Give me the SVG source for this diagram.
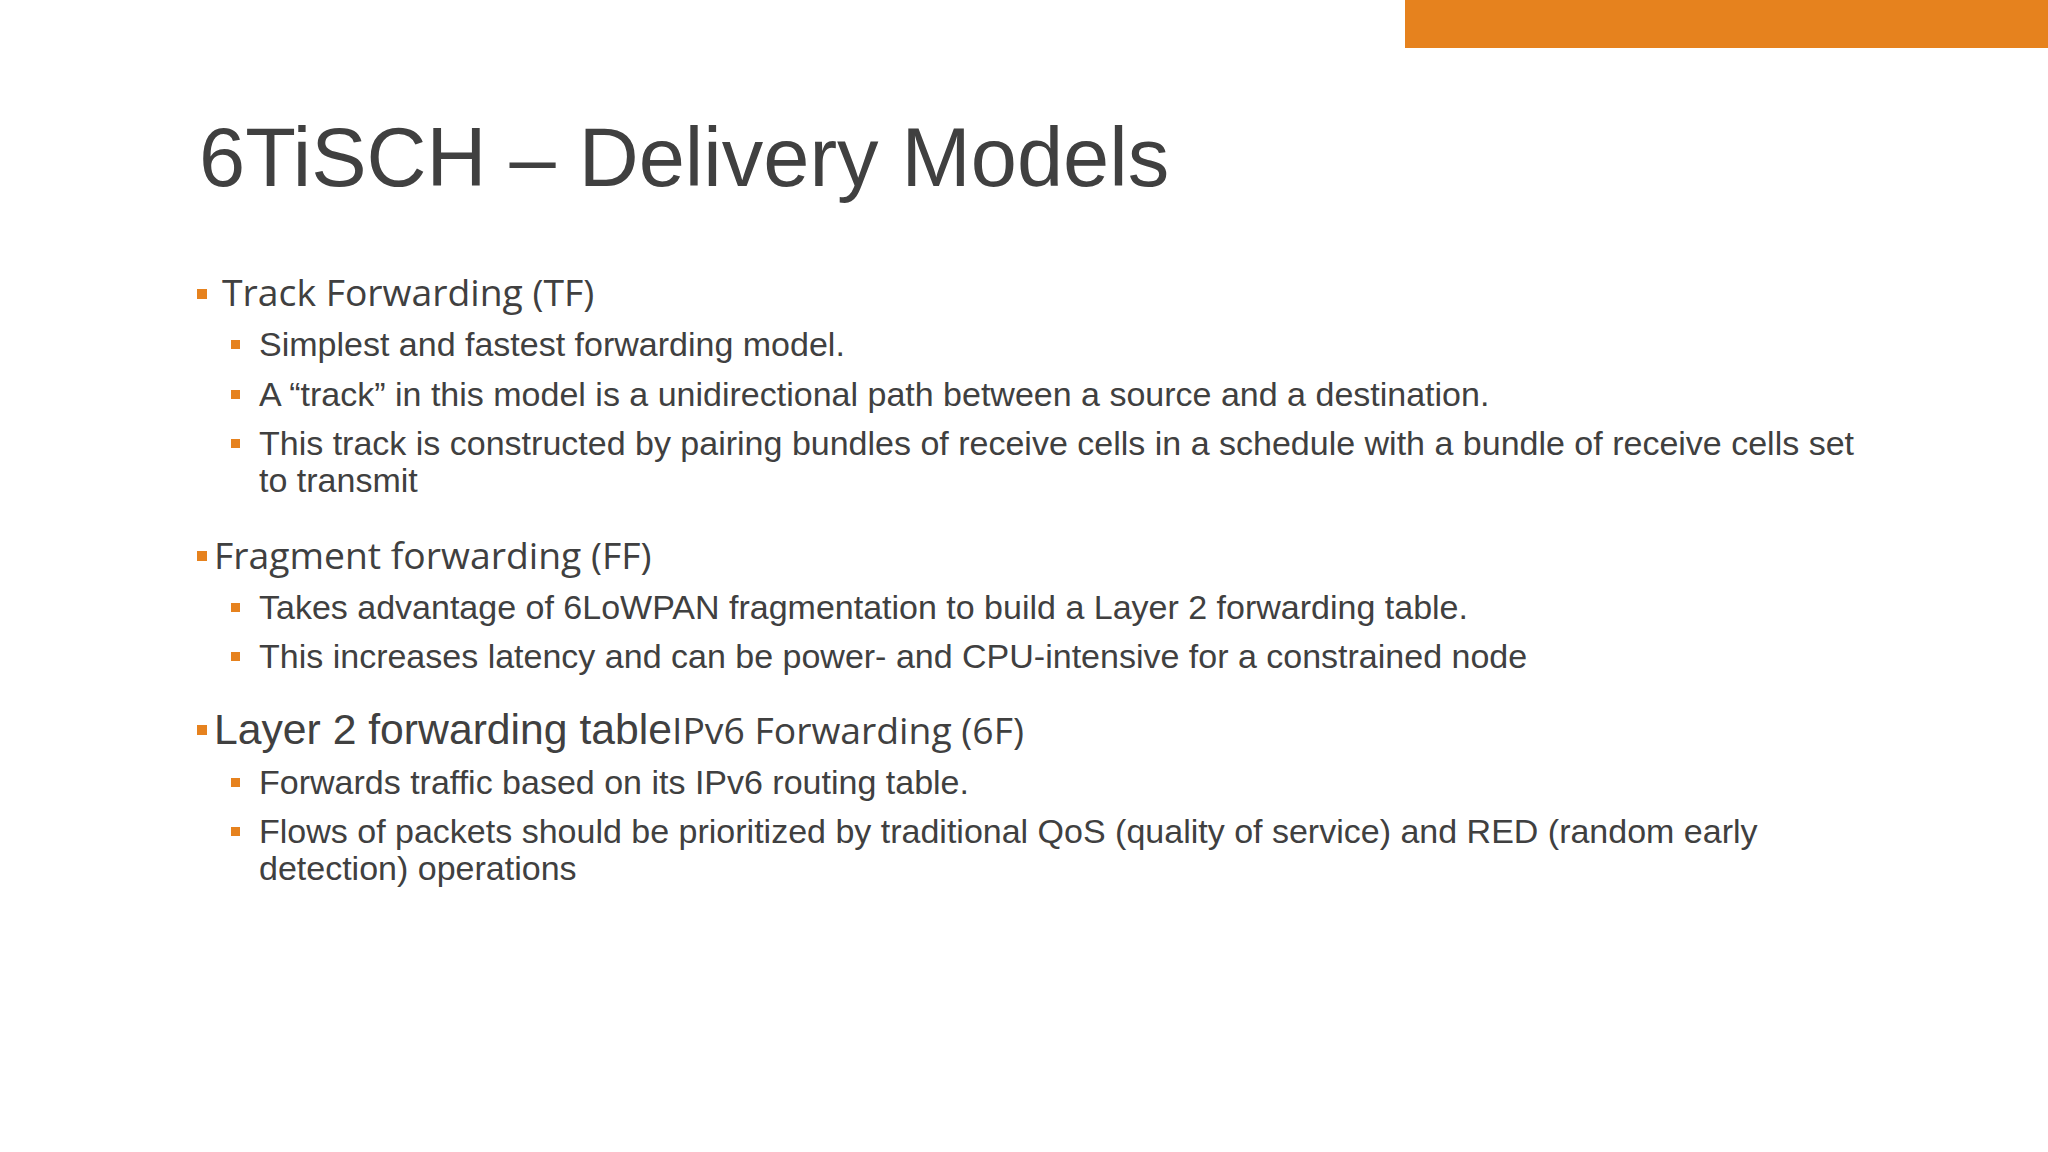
<svg xmlns="http://www.w3.org/2000/svg" width="2048" height="1152" viewBox="0 0 2048 1152">
<style>
.t{font-family:"Liberation Sans",Arial,sans-serif;fill:#404040}
.h{font-family:"Open Sans","Noto Sans",sans-serif;fill:#404040;font-size:37.3px}
.s{font-size:34px}
.b{fill:#E6821E}
</style>
<rect width="2048" height="1152" fill="#fff"/>
<rect x="1405" y="0" width="643" height="48" class="b"/>
<text x="199" y="186" class="t" font-size="83">6TiSCH – Delivery Models</text>
<g id="tf">
<rect x="197" y="289" width="10" height="10" class="b"/>
<text x="222" y="306" class="h">Track Forwarding (TF)</text>
<rect x="231" y="340" width="9" height="9" class="b"/>
<text x="259" y="356" class="t s">Simplest and fastest forwarding model.</text>
<rect x="231" y="390" width="9" height="9" class="b"/>
<text x="259" y="406" class="t s">A “track” in this model is a unidirectional path between a source and a destination.</text>
<rect x="231" y="439" width="9" height="9" class="b"/>
<text x="259" y="455" class="t s">This track is constructed by pairing bundles of receive cells in a schedule with a bundle of receive cells set</text>
<text x="259" y="492" class="t s">to transmit</text>
</g>
<g id="ff">
<rect x="197" y="551" width="10" height="10" class="b"/>
<text x="214" y="569" class="h">Fragment forwarding (FF)</text>
<rect x="231" y="603" width="9" height="9" class="b"/>
<text x="259" y="619" class="t s">Takes advantage of 6LoWPAN fragmentation to build a Layer 2 forwarding table.</text>
<rect x="231" y="652" width="9" height="9" class="b"/>
<text x="259" y="668" class="t s">This increases latency and can be power- and CPU-intensive for a constrained node</text>
</g>
<g id="sixf">
<rect x="197" y="725" width="10" height="10" class="b"/>
<text x="214" y="744"><tspan class="t" font-size="42.7">Layer 2 forwarding table</tspan><tspan class="h">IPv6 Forwarding (6F)</tspan></text>
<rect x="231" y="778" width="9" height="9" class="b"/>
<text x="259" y="794" class="t s">Forwards traffic based on its IPv6 routing table.</text>
<rect x="231" y="827" width="9" height="9" class="b"/>
<text x="259" y="843" class="t s">Flows of packets should be prioritized by traditional QoS (quality of service) and RED (random early</text>
<text x="259" y="880" class="t s">detection) operations</text>
</g>
</svg>
